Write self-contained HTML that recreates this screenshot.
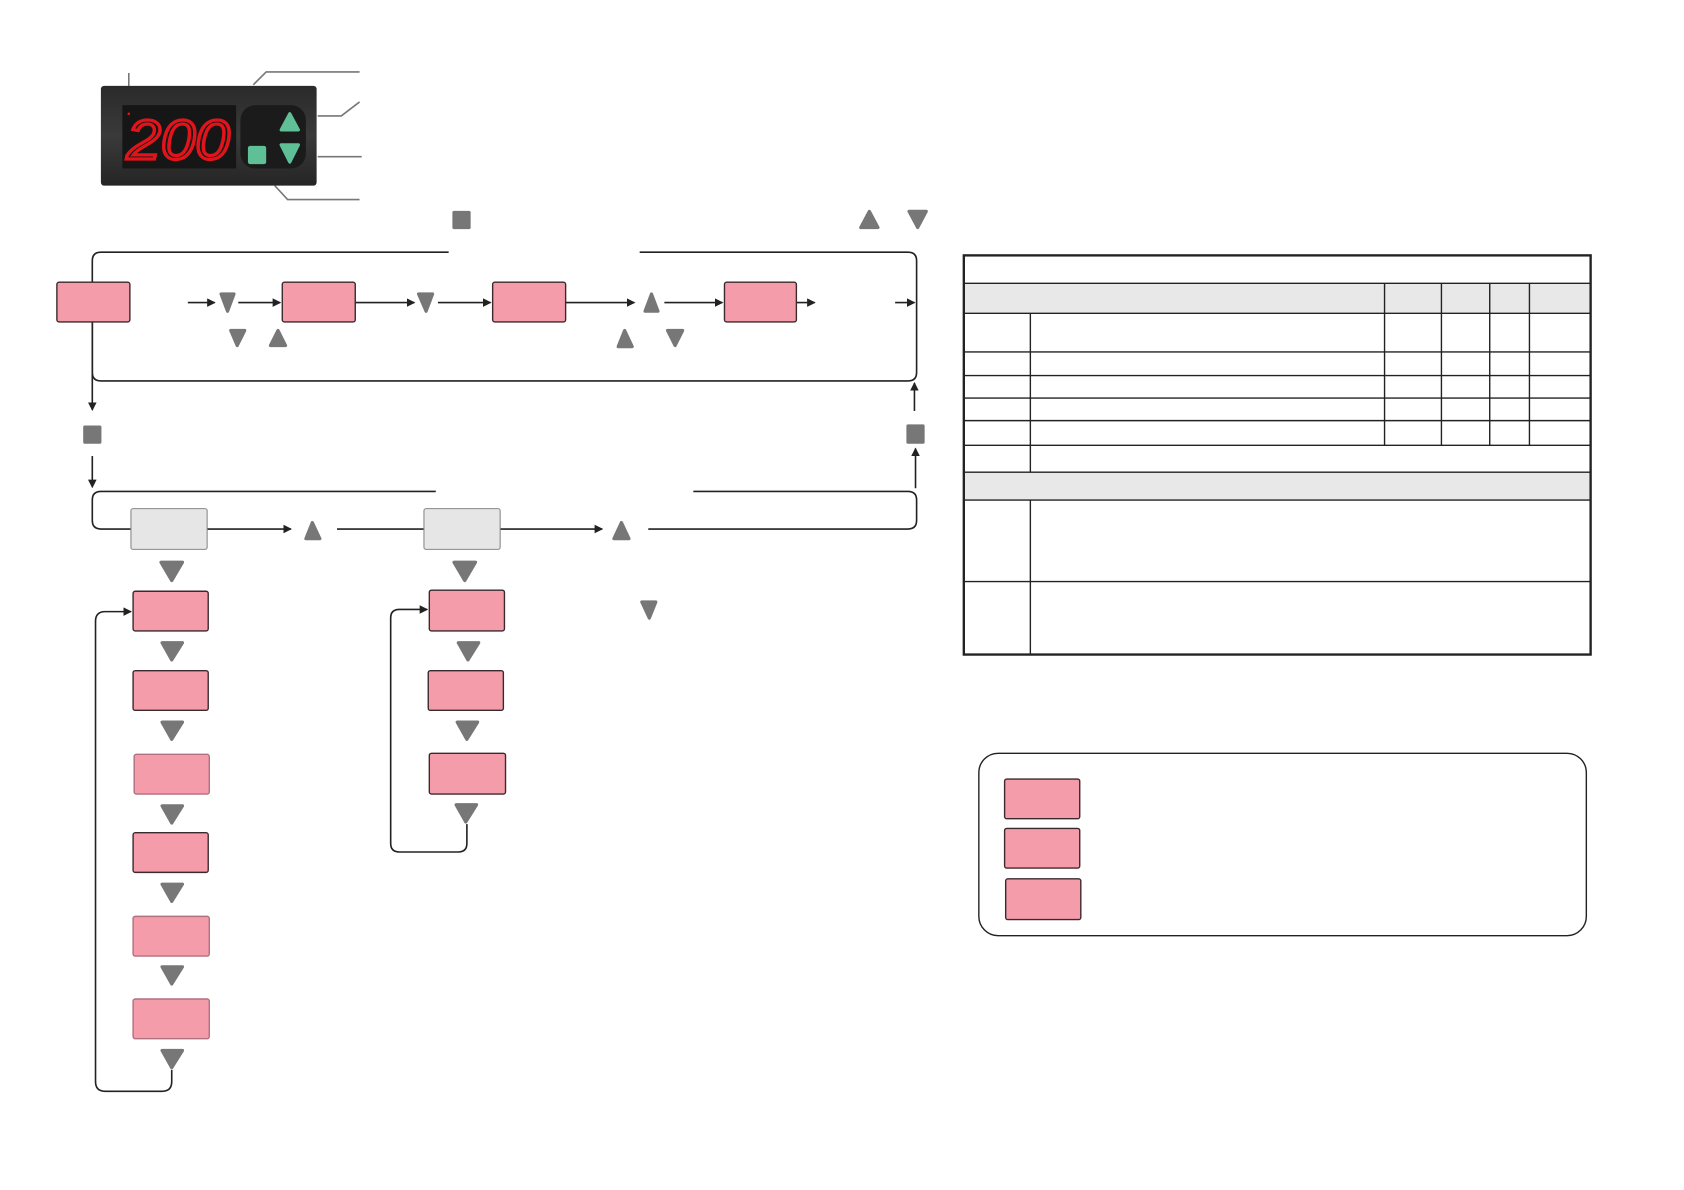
<!DOCTYPE html>
<html><head><meta charset="utf-8"><style>html,body{margin:0;padding:0;background:#fff}svg{display:block}</style></head><body>
<svg width="1684" height="1190" viewBox="0 0 1569 1109" preserveAspectRatio="none" xmlns="http://www.w3.org/2000/svg">
<defs>
<marker id="ah" markerWidth="8" markerHeight="8" refX="7" refY="4" orient="auto" markerUnits="userSpaceOnUse"><path d="M0,0 L8,4 L0,8 z" fill="#222"/></marker>
<linearGradient id="dev" x1="0" y1="0" x2="0" y2="1"><stop offset="0" stop-color="#2a2a2a"/><stop offset="0.5" stop-color="#3a3a3a"/><stop offset="1" stop-color="#252525"/></linearGradient>
</defs>
<g fill="none" stroke="#777" stroke-width="1.5">
<path d="M120,68 V86"/><path d="M236,79 L248,67 H335"/><path d="M296,108 H318 L335,95"/><path d="M296,146 H337"/><path d="M256,173 L268,186 H335"/>
</g>
<rect x="94" y="80" width="201" height="93" rx="3" fill="url(#dev)"/>
<rect x="114" y="98" width="106" height="59" fill="#161616"/>
<text x="118" y="148" font-family="Liberation Sans, sans-serif" font-size="52" font-style="italic" fill="none" stroke="#e0141a" stroke-width="3" textLength="96" lengthAdjust="spacingAndGlyphs">200</text>
<circle cx="120" cy="106" r="1.2" fill="#e0141a"/>
<rect x="224" y="98" width="61" height="59" rx="14" fill="#1b1b1b"/>
<polygon points="270,106 278,121 262,121" fill="#5fbf97" stroke="#5fbf97" stroke-width="3" stroke-linejoin="round"/>
<polygon points="262,135 278,135 270,151" fill="#5fbf97" stroke="#5fbf97" stroke-width="3" stroke-linejoin="round"/>
<rect x="231" y="136" width="17" height="17" rx="2" fill="#5fbf97"/>

<g fill="#777" stroke="#777" stroke-width="3" stroke-linejoin="round">
<rect x="422" y="197" width="16" height="16" rx="1" stroke-width="1"/>
<polygon points="810,197 818,212 802,212"/><polygon points="847,197 863,197 855,212"/>
<rect x="78" y="397" width="16" height="16" rx="1" stroke-width="1"/>
<rect x="845" y="396" width="16" height="17" rx="1" stroke-width="1"/>
<polygon points="206,274 218,274 212,290"/>
<polygon points="390,274 403,274 397,290"/>
<polygon points="607,274 613,290 601,290"/>
<polygon points="215,308 228,308 221,322"/><polygon points="259,308 266,322 252,322"/>
<polygon points="582,308 589,323 576,323"/><polygon points="622,308 636,308 629,322"/>
<polygon points="291,487 298,502 285,502"/><polygon points="579,487 586,502 572,502"/>
<polygon points="150,524 170,524 160,541"/><polygon points="423,524 443,524 433,541"/>
<polygon points="598,561 611,561 605,576"/>
<polygon points="151,599 170,599 160,615"/><polygon points="151,673 170,673 160,689"/><polygon points="151,751 170,751 160,767"/><polygon points="151,824 170,824 160,840"/><polygon points="151,901 170,901 160,917"/><polygon points="151,979 170,979 160,995"/>
<polygon points="427,599 446,599 436,615"/><polygon points="426,673 445,673 435,689"/><polygon points="425,750 444,750 434,766"/>
</g>

<g fill="none" stroke="#222" stroke-width="1.5">
<path d="M418,235 H94 Q86,235 86,243 V347 Q86,355 94,355 H846 Q854,355 854,347 V243 Q854,235 846,235 H596"/>
<path d="M86,300 V382" marker-end="url(#ah)"/>
<path d="M86,425 V454" marker-end="url(#ah)"/>
<path d="M852,383 V357" marker-end="url(#ah)"/>
<path d="M853,455 V418" marker-end="url(#ah)"/>
<path d="M175,282 H200" marker-end="url(#ah)"/>
<path d="M222,282 H261" marker-end="url(#ah)"/>
<path d="M331,282 H386" marker-end="url(#ah)"/>
<path d="M408,282 H457" marker-end="url(#ah)"/>
<path d="M527,282 H591" marker-end="url(#ah)"/>
<path d="M619,282 H673" marker-end="url(#ah)"/>
<path d="M742,282 H759" marker-end="url(#ah)"/>
<path d="M834,282 H852" marker-end="url(#ah)"/>
<path d="M406,458 H94 Q86,458 86,466 V485 Q86,493 94,493 H122"/>
<path d="M646,458 H846 Q854,458 854,466 V485 Q854,493 846,493 H604"/>
<path d="M193,493 H271" marker-end="url(#ah)"/>
<path d="M314,493 H395"/>
<path d="M466,493 H561" marker-end="url(#ah)"/>
<path d="M160,997 V1008 Q160,1017 151,1017 H98 Q89,1017 89,1008 V579 Q89,570 98,570 H122" marker-end="url(#ah)"/>
<path d="M435,768 V786 Q435,794 427,794 H372 Q364,794 364,786 V576 Q364,568 372,568 H398" marker-end="url(#ah)"/>
</g>

<g fill="#f59cab" stroke="#3a2a2e" stroke-width="1.3">
<rect x="53" y="263" width="68" height="37" rx="2"/>
<rect x="263" y="263" width="68" height="37" rx="2"/>
<rect x="459" y="263" width="68" height="37" rx="2"/>
<rect x="675" y="263" width="67" height="37" rx="2"/>
<rect x="124" y="551" width="70" height="37" rx="2"/>
<rect x="124" y="625" width="70" height="37" rx="2"/>
<rect x="125" y="703" width="70" height="37" rx="2" stroke="#b07080"/>
<rect x="124" y="776" width="70" height="37" rx="2"/>
<rect x="124" y="854" width="71" height="37" rx="2" stroke="#b07080"/>
<rect x="124" y="931" width="71" height="37" rx="2" stroke="#b07080"/>
<rect x="400" y="550" width="70" height="38" rx="2"/>
<rect x="399" y="625" width="70" height="37" rx="2"/>
<rect x="400" y="702" width="71" height="38" rx="2"/>
<rect x="936" y="726" width="70" height="37" rx="2"/>
<rect x="936" y="772" width="70" height="37" rx="2"/>
<rect x="937" y="819" width="70" height="38" rx="2"/>
</g>
<g fill="#e6e6e6" stroke="#888" stroke-width="1">
<rect x="122" y="474" width="71" height="38" rx="2"/>
<rect x="395" y="474" width="71" height="38" rx="2"/>
</g>

<rect x="898" y="264" width="584" height="28" fill="#e8e8e8"/>
<rect x="898" y="440" width="584" height="26" fill="#e8e8e8"/>
<g stroke="#222" stroke-width="1.3" fill="none">
<path d="M898,264 H1482 M898,292 H1482 M898,328 H1482 M898,350 H1482 M898,371 H1482 M898,392 H1482 M898,415 H1482 M898,440 H1482 M898,466 H1482 M898,542 H1482"/>
<path d="M1290,264 V415 M1343,264 V415 M1388,264 V415 M1425,264 V415 M960,292 V440 M960,466 V610"/>
<rect x="898" y="238" width="584" height="372" stroke-width="2.2"/>
<rect x="912" y="702" width="566" height="170" rx="18"/>
</g>
</svg>
</body></html>
